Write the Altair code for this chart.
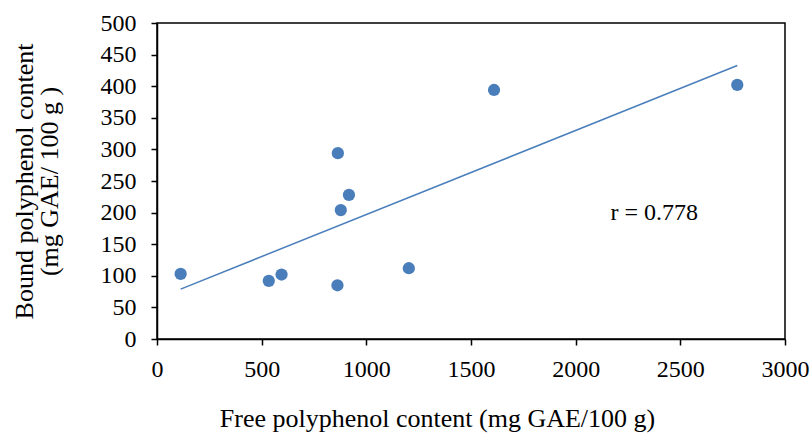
import altair as alt
import pandas as pd

free = [113, 534, 595, 862, 1203, 864, 878, 917, 1610, 2772]
bound = [103, 92, 102, 85, 112, 294, 204, 228, 394, 402]

x_ticks = [0, 500, 1000, 1500, 2000, 2500, 3000]
y_ticks = [0, 50, 100, 150, 200, 250, 300, 350, 400, 450, 500]

ann_x = [2375]
ann_y = [200]
ann_text = ["r = 0.778"]

df = pd.DataFrame({"free": free, "bound": bound})
ann = pd.DataFrame({"x": ann_x, "y": ann_y, "t": ann_text})

FONT = "Liberation Serif"
BLUE = "#4a7ebb"

xs = alt.Scale(domain=[0, 3000], nice=False, zero=False)
ys = alt.Scale(domain=[0, 500], nice=False, zero=False)

xaxis = alt.Axis(values=x_ticks, format="d", grid=False, domainColor="black", domainWidth=1.5,
                 tickColor="black", tickWidth=1.5, tickSize=6, labelFont=FONT,
                 labelFontSize=24, labelColor="black", labelPadding=12, labelOverlap=False,
                 title="Free polyphenol content (mg GAE/100 g)", titleFont=FONT,
                 titleFontSize=26, titleFontWeight="normal", titleColor="black",
                 titlePadding=24, titleX=280, titleAlign="center", labelFlush=False)
yaxis = alt.Axis(values=y_ticks, format="d", grid=False, domainColor="black", domainWidth=1.5,
                 tickColor="black", tickWidth=1.5, tickSize=6, labelFont=FONT,
                 labelFontSize=24, labelColor="black", labelPadding=15, labelOverlap=False,
                 title=["Bound polyphenol content", "(mg GAE/ 100 g )"], titleFont=FONT,
                 titleFontSize=26, titleFontWeight="normal", titleColor="black",
                 titlePadding=38, titleLineHeight=25, labelFlush=False)

X = alt.X("free:Q", scale=xs, axis=xaxis)
Y = alt.Y("bound:Q", scale=ys, axis=yaxis)

base = alt.Chart(df)

pts = base.mark_circle(size=150, color=BLUE, opacity=1).encode(x=X, y=Y)

line = base.transform_regression("free", "bound", method="linear").mark_line(
    color=BLUE, strokeWidth=1.5
).encode(x=X, y=Y)

txt = alt.Chart(ann).mark_text(font=FONT, fontSize=24, color="black").encode(
    x=alt.X("x:Q", scale=xs, axis=xaxis), y=alt.Y("y:Q", scale=ys, axis=yaxis), text="t:N"
)

chart = alt.layer(line, pts, txt).properties(
    width=628, height=316,
    padding={"left": 157, "top": 23, "right": 27, "bottom": 98},
    autosize=alt.AutoSizeParams(type="none"),
    background="white",
).configure_view(stroke="black", strokeWidth=1.5)

chart.save("out.html", embed_options={"renderer": "svg", "actions": False})
